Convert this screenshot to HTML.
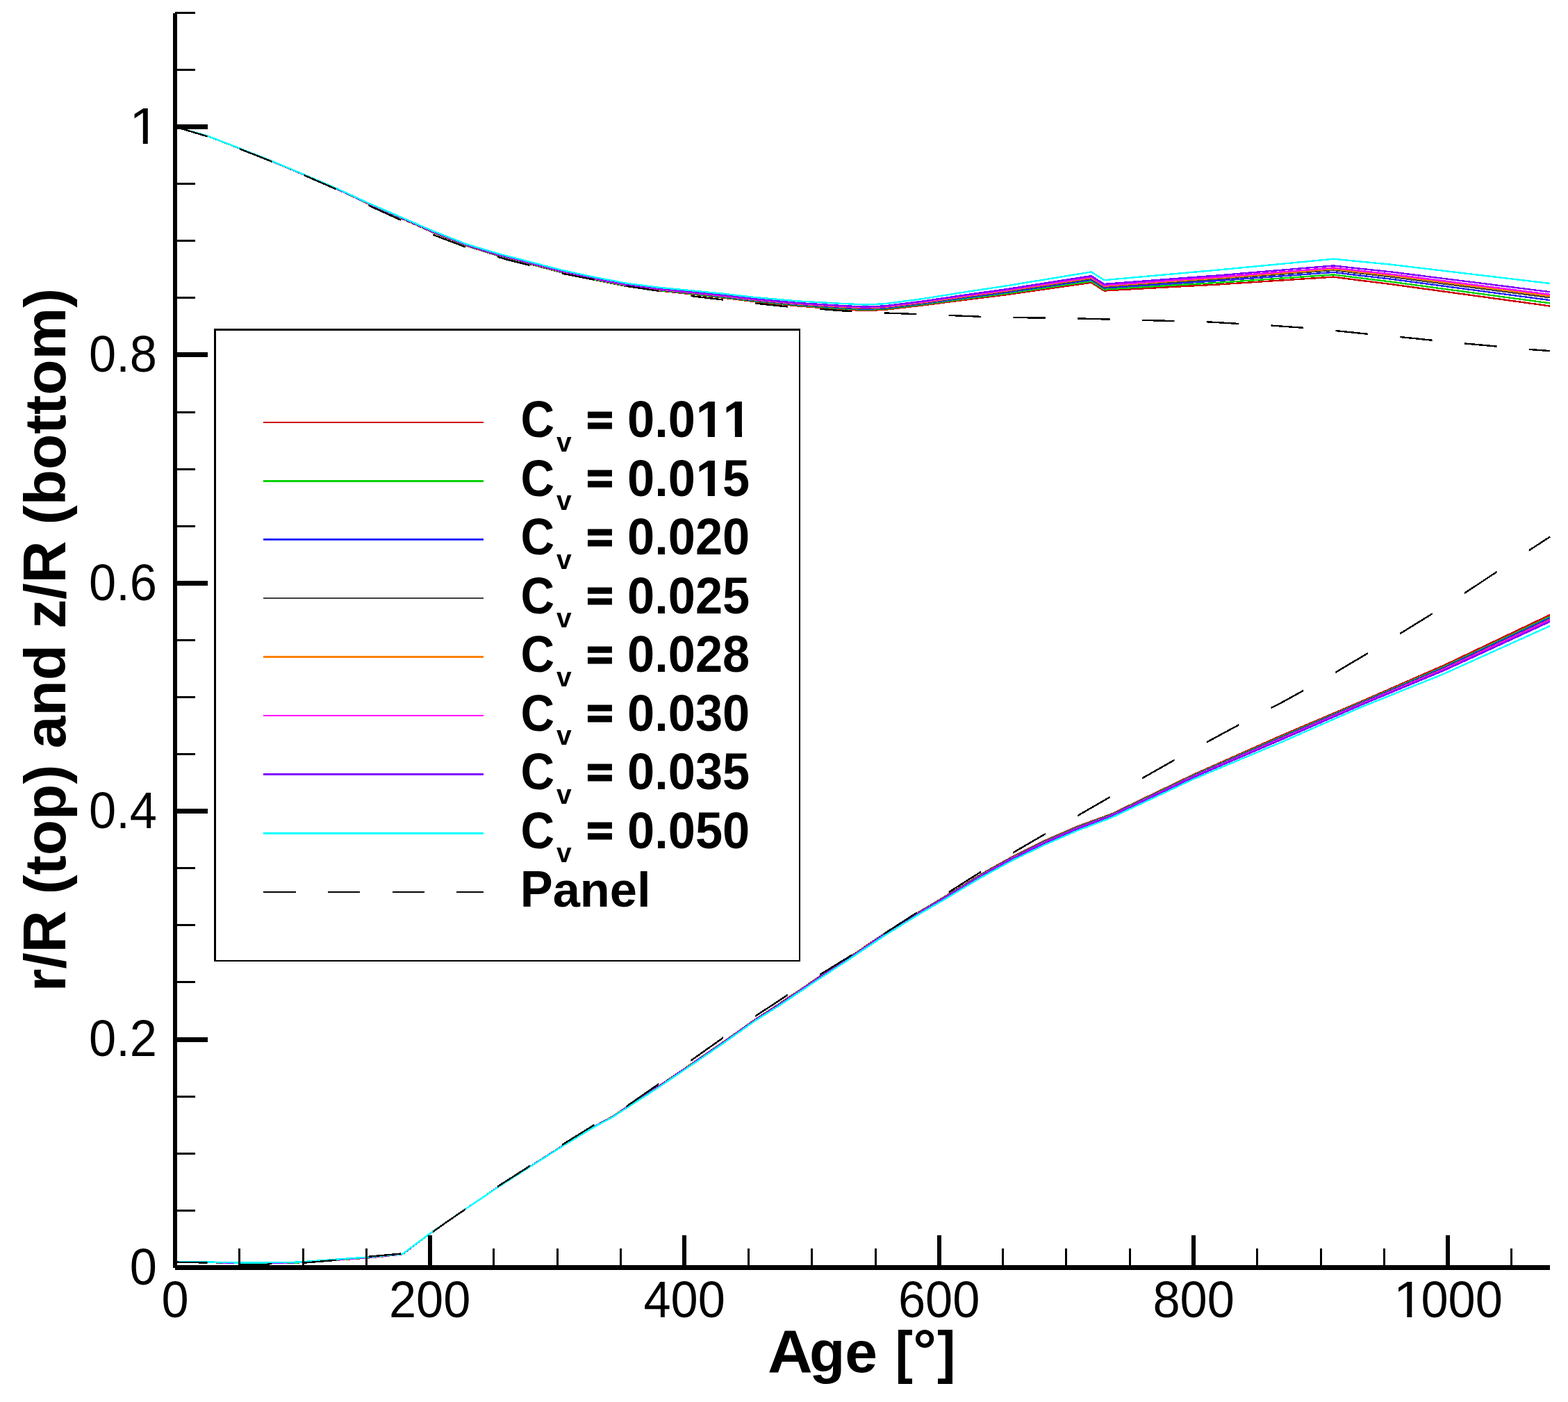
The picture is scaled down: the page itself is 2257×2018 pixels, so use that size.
<!DOCTYPE html>
<html lang="en"><head><meta charset="utf-8"><title>r/R (top) and z/R (bottom) vs Age</title>
<style>html,body{margin:0;padding:0;background:#fff;}body{width:2257px;height:2018px;overflow:hidden;}svg{display:block;}text{font-family:"Liberation Sans",Arial,Helvetica,sans-serif;fill:#000;font-kerning:none;white-space:pre;}.tk text{font-size:70.4px;}.lg text{font-size:70.4px;font-weight:bold;}.lg text.sub{font-size:39px;}.ax text{font-size:84px;font-weight:bold;}</style></head><body>
<svg xmlns="http://www.w3.org/2000/svg" width="2257" height="2018" viewBox="0 0 2257 2018">
<rect x="0" y="0" width="2257" height="2018" fill="#fff"/>
<defs>
<clipPath id="dash">
<rect x="252" y="0" width="46.5" height="2018"/>
<rect x="344.8" y="0" width="46.5" height="2018"/>
<rect x="437.6" y="0" width="46.5" height="2018"/>
<rect x="530.4" y="0" width="46.5" height="2018"/>
<rect x="623.2" y="0" width="46.5" height="2018"/>
<rect x="716" y="0" width="46.5" height="2018"/>
<rect x="808.8" y="0" width="46.5" height="2018"/>
<rect x="901.6" y="0" width="46.5" height="2018"/>
<rect x="994.4" y="0" width="46.5" height="2018"/>
<rect x="1087.2" y="0" width="46.5" height="2018"/>
<rect x="1180" y="0" width="46.5" height="2018"/>
<rect x="1272.8" y="0" width="46.5" height="2018"/>
<rect x="1365.6" y="0" width="46.5" height="2018"/>
<rect x="1458.4" y="0" width="46.5" height="2018"/>
<rect x="1551.2" y="0" width="46.5" height="2018"/>
<rect x="1644" y="0" width="46.5" height="2018"/>
<rect x="1736.8" y="0" width="46.5" height="2018"/>
<rect x="1829.6" y="0" width="46.5" height="2018"/>
<rect x="1922.4" y="0" width="46.5" height="2018"/>
<rect x="2015.2" y="0" width="46.5" height="2018"/>
<rect x="2108" y="0" width="46.5" height="2018"/>
<rect x="2200.8" y="0" width="31.2" height="2018"/>
</clipPath>
<clipPath id="oner70"><polygon points="-5,-84.48 70.4,-84.48 70.4,-6.02 23.93,-6.02 23.93,2 17.7,2 17.7,-6.02 -5,-6.02"/></clipPath>
<clipPath id="oneb70"><polygon points="-5,-84.48 70.4,-84.48 70.4,-7.98 26.09,-7.98 26.09,2 16.43,2 16.43,-7.98 -5,-7.98"/></clipPath>
</defs>
<g fill="none" stroke-linejoin="round" stroke-width="2.4" shape-rendering="crispEdges">
<polyline stroke="#cc0000" points="252,182.6 266.5,186.5 298.9,195.9 346.1,214.2 391.5,232.3 438,251.8 490,274.5 531.3,294 577.8,314.5 623.2,334.5 669.8,353.3 716.3,368 730,371.4 809,392.4 855.5,402.8 902.1,412.1 947.5,418.3 970,420.6 1040.7,428.6 1087.9,434.4 1146.8,440.3 1210,445.2 1245.4,447.1 1273.7,445.8 1327.9,439.5 1386.8,431.9 1450,424 1570.8,406.7 1589.2,418.5 1700,412.3 1750,409.7 1919.5,398.6 1957,403.5 2000,408.8 2231,440.5"/>
<polyline stroke="#cc0000" points="252,1816.2 300,1817 345,1818.3 380,1818.3 430,1817.4 483.6,1813.7 531.1,1810.4 578,1805.6 580.5,1804.6 616.2,1777.5 640,1760.9 669.5,1740.7 715.4,1709.5 762.6,1679.2 809.2,1649.5 855.7,1621 880,1608 947.2,1564 994.3,1532 1040.9,1500 1087.5,1467 1120,1446 1180.7,1405 1226.7,1375 1273.2,1343.5 1319.8,1314.5 1360,1290.5 1411.9,1258.5 1458.4,1232.5 1505,1209.5 1551,1189.5 1600,1171.6 1717.9,1114.9 1840,1060.7 1960.9,1009 2080,956.9 2231,885"/>
<polyline stroke="#00d000" points="252,182.6 266.5,186.5 298.9,195.9 346.1,214.2 391.5,232.2 438,251.7 490,274.4 531.3,293.9 577.8,314.3 623.2,334.2 669.8,353 716.3,367.6 730,371 809,392 855.5,402.3 902.1,411.6 947.5,417.7 970,420 1040.7,427.9 1087.9,433.6 1146.8,439.4 1210,444.1 1245.4,446 1273.7,444.7 1327.9,438.3 1386.8,430.5 1450,422.4 1570.8,404.8 1589.2,416.6 1700,409.9 1750,407.1 1919.5,395.4 1957,400.1 2000,405.3 2231,436.4"/>
<polyline stroke="#00d000" points="252,1816.1 300,1816.9 345,1818.2 380,1818.2 430,1817.3 483.6,1813.5 531.1,1810.2 578,1805.5 580.5,1804.5 616.2,1777.5 640,1760.9 669.5,1740.7 715.4,1709.5 762.6,1679.3 809.2,1649.6 855.7,1621.1 880,1608.2 947.2,1564.3 994.3,1532.3 1040.9,1500.3 1087.5,1467.3 1120,1446.4 1180.7,1405.5 1226.7,1375.5 1273.2,1344 1319.8,1315 1360,1291.1 1411.9,1259.3 1458.4,1233.4 1505,1210.5 1551,1190.5 1600,1172.5 1717.9,1116 1840,1062.3 1960.9,1010.4 2080,959 2231,887.7"/>
<polyline stroke="#2828ff" points="252,182.6 266.5,186.5 298.9,195.8 346.1,214.1 391.5,232.2 438,251.7 490,274.3 531.3,293.7 577.8,314.1 623.2,334 669.8,352.7 716.3,367.2 730,370.6 809,391.5 855.5,401.8 902.1,411 947.5,417.1 970,419.4 1040.7,427.1 1087.9,432.8 1146.8,438.5 1210,443 1245.4,444.9 1273.7,443.6 1327.9,437.1 1386.8,429 1450,420.7 1570.8,402.7 1589.2,414.5 1700,407.4 1750,404.3 1919.5,391.9 1957,396.5 2000,401.4 2231,432.1"/>
<polyline stroke="#2828ff" points="252,1816.1 300,1816.9 345,1818.1 380,1818.1 430,1817.2 483.6,1813.4 531.1,1810.1 578,1805.4 580.5,1804.5 616.2,1777.4 640,1760.9 669.5,1740.7 715.4,1709.6 762.6,1679.3 809.2,1649.7 855.7,1621.2 880,1608.3 947.2,1564.4 994.3,1532.5 1040.9,1500.5 1087.5,1467.5 1120,1446.7 1180.7,1405.8 1226.7,1375.8 1273.2,1344.3 1319.8,1315.4 1360,1291.5 1411.9,1259.8 1458.4,1233.9 1505,1211.1 1551,1191.1 1600,1173 1717.9,1116.7 1840,1063.3 1960.9,1011.2 2080,960.2 2231,889.3"/>
<polyline stroke="#404040" points="252,182.6 266.5,186.5 298.9,195.8 346.1,214.1 391.5,232.2 438,251.6 490,274.2 531.3,293.6 577.8,313.9 623.2,333.8 669.8,352.4 716.3,366.8 730,370.3 809,391.1 855.5,401.3 902.1,410.5 947.5,416.6 970,418.8 1040.7,426.4 1087.9,432 1146.8,437.7 1210,442.1 1245.4,443.9 1273.7,442.6 1327.9,436 1386.8,427.7 1450,419.2 1570.8,401 1589.2,412.8 1700,405.2 1750,401.9 1919.5,388.9 1957,393.3 2000,398.2 2231,428.3"/>
<polyline stroke="#404040" points="252,1816 300,1816.8 345,1818 380,1818 430,1817.1 483.6,1813.3 531.1,1810 578,1805.4 580.5,1804.5 616.2,1777.4 640,1760.9 669.5,1740.7 715.4,1709.6 762.6,1679.4 809.2,1649.7 855.7,1621.3 880,1608.4 947.2,1564.7 994.3,1532.7 1040.9,1500.8 1087.5,1467.8 1120,1447 1180.7,1406.2 1226.7,1376.1 1273.2,1344.8 1319.8,1315.8 1360,1292.1 1411.9,1260.4 1458.4,1234.7 1505,1211.9 1551,1191.9 1600,1173.7 1717.9,1117.6 1840,1064.6 1960.9,1012.4 2080,961.9 2231,891.6"/>
<polyline stroke="#ff8000" points="252,182.6 266.5,186.5 298.9,195.8 346.1,214.1 391.5,232.1 438,251.6 490,274.1 531.3,293.5 577.8,313.8 623.2,333.6 669.8,352.2 716.3,366.6 730,370.1 809,390.9 855.5,401.1 902.1,410.2 947.5,416.3 970,418.5 1040.7,426 1087.9,431.6 1146.8,437.2 1210,441.5 1245.4,443.3 1273.7,442 1327.9,435.4 1386.8,427 1450,418.4 1570.8,400 1589.2,411.8 1700,403.9 1750,400.5 1919.5,387.2 1957,391.6 2000,396.3 2231,426.2"/>
<polyline stroke="#ff8000" points="252,1816 300,1816.8 345,1817.9 380,1817.9 430,1817 483.6,1813.3 531.1,1810 578,1805.3 580.5,1804.5 616.2,1777.4 640,1760.9 669.5,1740.7 715.4,1709.6 762.6,1679.4 809.2,1649.8 855.7,1621.4 880,1608.4 947.2,1564.7 994.3,1532.7 1040.9,1500.8 1087.5,1467.8 1120,1447.1 1180.7,1406.3 1226.7,1376.2 1273.2,1344.9 1319.8,1315.9 1360,1292.2 1411.9,1260.6 1458.4,1234.8 1505,1212.1 1551,1192.1 1600,1173.9 1717.9,1117.8 1840,1064.9 1960.9,1012.6 2080,962.3 2231,892"/>
<polyline stroke="#ff00ff" points="252,182.6 266.5,186.5 298.9,195.8 346.1,214 391.5,232.1 438,251.5 490,274.1 531.3,293.4 577.8,313.6 623.2,333.5 669.8,352 716.3,366.4 730,369.9 809,390.6 855.5,400.8 902.1,409.9 947.5,416 970,418.2 1040.7,425.6 1087.9,431.2 1146.8,436.7 1210,440.9 1245.4,442.7 1273.7,441.4 1327.9,434.7 1386.8,426.2 1450,417.5 1570.8,398.9 1589.2,410.7 1700,402.6 1750,399.1 1919.5,385.4 1957,389.7 2000,394.4 2231,423.9"/>
<polyline stroke="#ff00ff" points="252,1816 300,1816.8 345,1817.9 380,1817.9 430,1817 483.6,1813.2 531.1,1809.9 578,1805.3 580.5,1804.5 616.2,1777.4 640,1760.9 669.5,1740.7 715.4,1709.6 762.6,1679.4 809.2,1649.8 855.7,1621.4 880,1608.5 947.2,1564.7 994.3,1532.8 1040.9,1500.9 1087.5,1467.9 1120,1447.2 1180.7,1406.3 1226.7,1376.3 1273.2,1344.9 1319.8,1316 1360,1292.2 1411.9,1260.7 1458.4,1234.9 1505,1212.2 1551,1192.2 1600,1174 1717.9,1117.9 1840,1065.1 1960.9,1012.8 2080,962.6 2231,892.4"/>
<polyline stroke="#8000ff" points="252,182.6 266.5,186.5 298.9,195.8 346.1,214 391.5,232.1 438,251.5 490,274 531.3,293.2 577.8,313.4 623.2,333.2 669.8,351.7 716.3,366.1 730,369.5 809,390.2 855.5,400.4 902.1,409.4 947.5,415.4 970,417.6 1040.7,424.9 1087.9,430.5 1146.8,435.9 1210,439.9 1245.4,441.7 1273.7,440.4 1327.9,433.6 1386.8,424.9 1450,416 1570.8,397.1 1589.2,408.9 1700,400.4 1750,396.7 1919.5,382.4 1957,386.6 2000,391.1 2231,420.2"/>
<polyline stroke="#8000ff" points="252,1816 300,1816.7 345,1817.8 380,1817.8 430,1816.9 483.6,1813.1 531.1,1809.8 578,1805.2 580.5,1804.4 616.2,1777.4 640,1760.9 669.5,1740.7 715.4,1709.6 762.6,1679.4 809.2,1649.9 855.7,1621.5 880,1608.6 947.2,1565 994.3,1533 1040.9,1501.2 1087.5,1468.2 1120,1447.5 1180.7,1406.8 1226.7,1376.7 1273.2,1345.4 1319.8,1316.5 1360,1292.8 1411.9,1261.4 1458.4,1235.7 1505,1213.1 1551,1193.1 1600,1174.8 1717.9,1118.9 1840,1066.5 1960.9,1014 2080,964.4 2231,894.8"/>
<polyline stroke="#00ffff" points="252,182.6 266.5,186.5 298.9,195.7 346.1,213.9 391.5,231.9 438,251.3 490,273.7 531.3,292.8 577.8,312.8 623.2,332.5 669.8,350.8 716.3,364.9 730,368.4 809,388.9 855.5,398.9 902.1,407.8 947.5,413.7 970,415.8 1040.7,422.7 1087.9,428.1 1146.8,433.3 1210,436.8 1245.4,438.5 1273.7,437.2 1327.9,430.1 1386.8,420.7 1450,411.2 1570.8,391.4 1589.2,403.2 1700,393.3 1750,388.9 1919.5,372.7 1957,376.4 2000,380.5 2231,408"/>
<polyline stroke="#00ffff" points="252,1815.8 300,1816.5 345,1817.5 380,1817.5 430,1816.6 483.6,1812.7 531.1,1809.4 578,1805 580.5,1804.3 616.2,1777.3 640,1760.9 669.5,1740.7 715.4,1709.7 762.6,1679.6 809.2,1650.1 855.7,1621.8 880,1609 947.2,1565.6 994.3,1533.7 1040.9,1501.9 1087.5,1468.9 1120,1448.5 1180.7,1407.9 1226.7,1377.8 1273.2,1346.6 1319.8,1317.7 1360,1294.3 1411.9,1263.2 1458.4,1237.8 1505,1215.4 1551,1195.4 1600,1176.8 1717.9,1121.4 1840,1070.2 1960.9,1017.2 2080,969.2 2231,901"/>
</g>
<g fill="none" stroke="#000" stroke-width="2.4" clip-path="url(#dash)" shape-rendering="crispEdges">
<polyline points="252,182.6 266.5,186.8 298.9,196.5 346.1,214.7 391.5,232.7 438,252.3 490,275 531.3,296 577.8,317.2 623.2,337.8 669.8,355.5 716.3,369.6 730,373.8 809,393.6 855.5,402.7 902.1,411.9 947.5,418.7 994.2,426 1040.7,431.5 1087.3,436.6 1133.9,441.5 1180.4,444.8 1210,447.2 1273.7,450.5 1319.6,452.1 1365,453.9 1411.6,455.8 1458.1,457 1551.1,458.4 1644.2,460.9 1736.1,463.2 1784,466 1829.2,468.5 1875.8,471.8 1922.2,476 1968.9,480.8 2015.2,485 2060.9,489.7 2108,494.4 2153.7,498.5 2200.1,502.9 2231,505.1"/>
<polyline points="252,1816.6 300,1817.6 345,1819.7 385,1819.7 392,1818.7 437.6,1817.7 484.2,1813.8 531.1,1808.7 578,1804.4 580.5,1804.3 616.2,1778 640,1761 669.5,1740.7 715.4,1708.5 762.6,1678.2 809.2,1647.8 855.7,1618.9 902.4,1592.1 947.2,1560.9 994.3,1526.7 1040.9,1493.7 1087.5,1462.4 1120,1441.2 1133.6,1432.1 1180.7,1402.6 1226.7,1374.3 1273.2,1343.6 1319.8,1313.6 1365.3,1284.4 1411.9,1254.9 1458.4,1227.2 1505,1200.1 1551,1174.2 1596.9,1147.7 1644.2,1120.2 1690.2,1094.1 1736.2,1068.7 1783.9,1043 1829.3,1018.9 1840,1013.9 1875.7,994.2 1922.2,968 1968.8,940.2 2015.3,912 2060.5,884.1 2108.3,853.7 2153.6,823.7 2200.2,792.7 2231.2,772.6"/>
</g>
<g fill="#000" shape-rendering="crispEdges">
<rect x="249" y="19" width="6" height="1806"/>
<rect x="252" y="1821" width="1979" height="7"/>
<rect x="252" y="1741" width="29" height="3"/>
<rect x="252" y="1659" width="29" height="3"/>
<rect x="252" y="1577" width="29" height="3"/>
<rect x="252" y="1493" width="47" height="7"/>
<rect x="252" y="1412" width="29" height="3"/>
<rect x="252" y="1330" width="29" height="3"/>
<rect x="252" y="1248" width="29" height="3"/>
<rect x="252" y="1164" width="47" height="7"/>
<rect x="252" y="1084" width="29" height="3"/>
<rect x="252" y="1002" width="29" height="3"/>
<rect x="252" y="920" width="29" height="3"/>
<rect x="252" y="836" width="47" height="7"/>
<rect x="252" y="756" width="29" height="3"/>
<rect x="252" y="674" width="29" height="3"/>
<rect x="252" y="592" width="29" height="3"/>
<rect x="252" y="507" width="47" height="7"/>
<rect x="252" y="427" width="29" height="3"/>
<rect x="252" y="345" width="29" height="3"/>
<rect x="252" y="263" width="29" height="3"/>
<rect x="252" y="179" width="47" height="7"/>
<rect x="252" y="99" width="29" height="3"/>
<rect x="252" y="17" width="29" height="3"/>
<rect x="343" y="1797" width="3" height="27"/>
<rect x="435" y="1797" width="3" height="27"/>
<rect x="526" y="1797" width="3" height="27"/>
<rect x="616" y="1778" width="6" height="46"/>
<rect x="709" y="1797" width="3" height="27"/>
<rect x="801" y="1797" width="3" height="27"/>
<rect x="892" y="1797" width="3" height="27"/>
<rect x="982" y="1778" width="6" height="46"/>
<rect x="1076" y="1797" width="3" height="27"/>
<rect x="1167" y="1797" width="3" height="27"/>
<rect x="1259" y="1797" width="3" height="27"/>
<rect x="1349" y="1778" width="6" height="46"/>
<rect x="1442" y="1797" width="3" height="27"/>
<rect x="1533" y="1797" width="3" height="27"/>
<rect x="1625" y="1797" width="3" height="27"/>
<rect x="1715" y="1778" width="6" height="46"/>
<rect x="1808" y="1797" width="3" height="27"/>
<rect x="1900" y="1797" width="3" height="27"/>
<rect x="1991" y="1797" width="3" height="27"/>
<rect x="2081" y="1778" width="6" height="46"/>
<rect x="2174" y="1797" width="3" height="27"/>
</g>
<g class="tk">
<text transform="translate(186.75 1848.7) scale(1 1.045)">0</text>
<text transform="translate(128.03 1520.3) scale(1 1.045)">0</text>
<text transform="translate(167.19 1520.3)">.</text>
<text transform="translate(186.75 1520.3) scale(1 1.045)">2</text>
<text transform="translate(128.03 1191.9) scale(1 1.045)">0</text>
<text transform="translate(167.19 1191.9)">.</text>
<text transform="translate(186.75 1191.9) scale(1 1.045)">4</text>
<text transform="translate(128.03 863.5) scale(1 1.045)">0</text>
<text transform="translate(167.19 863.5)">.</text>
<text transform="translate(186.75 863.5) scale(1 1.045)">6</text>
<text transform="translate(128.03 535.1) scale(1 1.045)">0</text>
<text transform="translate(167.19 535.1)">.</text>
<text transform="translate(186.75 535.1) scale(1 1.045)">8</text>
<text transform="translate(185.95 206.7) scale(1.12 1.045)" clip-path="url(#oner70)">1</text>
<text transform="translate(232.62 1896.1) scale(1 1.045)">0</text>
<text transform="translate(559.95 1896.1) scale(1 1.045)">200</text>
<text transform="translate(926.43 1896.1) scale(1 1.045)">400</text>
<text transform="translate(1292.91 1896.1) scale(1 1.045)">600</text>
<text transform="translate(1659.4 1896.1) scale(1 1.045)">800</text>
<text transform="translate(2005.5 1896.1) scale(1.12 1.045)" clip-path="url(#oner70)">1</text>
<text transform="translate(2045.45 1896.1) scale(1 1.045)">000</text>
</g>
<g class="ax">
<text transform="translate(1105.12 1975.3) scale(1.065 1.045)">A</text>
<text transform="translate(1164.88 1975.3)">ge</text>
<text transform="translate(1288.65 1975.3) scale(0.9 1)">[</text>
<text transform="translate(1314.22 1972.2)">°</text>
<text transform="translate(1349.11 1975.3) scale(0.945 1)">]</text>
<g transform="translate(93.8 921) rotate(-90)">
<text transform="translate(-506.21 0)">r/</text>
<text transform="translate(-450.19 0) scale(1 1.045)">R</text>
<text transform="translate(-366.19 0)">(top)</text>
<text transform="translate(-156.31 0)">and</text>
<text transform="translate(16.37 0)">z/</text>
<text transform="translate(81.7 0) scale(1 1.045)">R</text>
<text transform="translate(165.7 0)">(bottom)</text>
</g></g>
<g shape-rendering="crispEdges">
<rect x="308" y="473" width="844" height="911" fill="#fff"/>
<rect x="308" y="473" width="844" height="2.5"/>
<rect x="308" y="1381.5" width="844" height="2.5"/>
<rect x="308" y="473" width="2.5" height="911"/>
<rect x="1149.5" y="473" width="2.5" height="911"/>
</g>
<g shape-rendering="crispEdges">
<rect x="379" y="607" width="317" height="2" fill="#cc0000"/>
<rect x="379" y="691" width="317" height="3" fill="#00d000"/>
<rect x="379" y="775" width="317" height="3" fill="#2828ff"/>
<rect x="379" y="860" width="317" height="2" fill="#404040"/>
<rect x="379" y="944" width="317" height="3" fill="#ff8000"/>
<rect x="379" y="1029" width="317" height="2" fill="#ff00ff"/>
<rect x="379" y="1113" width="317" height="3" fill="#8000ff"/>
<rect x="379" y="1198" width="317" height="3" fill="#00ffff"/>
<rect x="379" y="1283" width="47" height="2" fill="#000"/>
<rect x="472" y="1283" width="46" height="2" fill="#000"/>
<rect x="565" y="1283" width="46" height="2" fill="#000"/>
<rect x="657" y="1283" width="39" height="2" fill="#000"/>
</g>
<g class="lg">
<text transform="translate(749.6 629.2) scale(0.955 1.045)">C</text>
<text class="sub" x="801" y="649.5">v</text>
<text transform="translate(845.1 623.7) scale(0.897 0.825)" stroke="#000" stroke-width="3.7" stroke-linejoin="miter">=</text>
<text transform="translate(903.1 629.2) scale(1 1.045)">0</text>
<text transform="translate(942.25 629.2)">.</text>
<text transform="translate(961.81 629.2) scale(1 1.045)">0</text>
<text transform="translate(1001.47 629.2) scale(1.05 1.045)" clip-path="url(#oneb70)">1</text>
<text transform="translate(1040.62 629.2) scale(1.05 1.045)" clip-path="url(#oneb70)">1</text>
<text transform="translate(749.6 713.7) scale(0.955 1.045)">C</text>
<text class="sub" x="801" y="734">v</text>
<text transform="translate(845.1 708.2) scale(0.897 0.825)" stroke="#000" stroke-width="3.7" stroke-linejoin="miter">=</text>
<text transform="translate(903.1 713.7) scale(1 1.045)">0</text>
<text transform="translate(942.25 713.7)">.</text>
<text transform="translate(961.81 713.7) scale(1 1.045)">0</text>
<text transform="translate(1001.47 713.7) scale(1.05 1.045)" clip-path="url(#oneb70)">1</text>
<text transform="translate(1040.12 713.7) scale(1 1.045)">5</text>
<text transform="translate(749.6 798.2) scale(0.955 1.045)">C</text>
<text class="sub" x="801" y="818.5">v</text>
<text transform="translate(845.1 792.7) scale(0.897 0.825)" stroke="#000" stroke-width="3.7" stroke-linejoin="miter">=</text>
<text transform="translate(903.1 798.2) scale(1 1.045)">0</text>
<text transform="translate(942.25 798.2)">.</text>
<text transform="translate(961.81 798.2) scale(1 1.045)">020</text>
<text transform="translate(749.6 882.7) scale(0.955 1.045)">C</text>
<text class="sub" x="801" y="903">v</text>
<text transform="translate(845.1 877.2) scale(0.897 0.825)" stroke="#000" stroke-width="3.7" stroke-linejoin="miter">=</text>
<text transform="translate(903.1 882.7) scale(1 1.045)">0</text>
<text transform="translate(942.25 882.7)">.</text>
<text transform="translate(961.81 882.7) scale(1 1.045)">025</text>
<text transform="translate(749.6 967.2) scale(0.955 1.045)">C</text>
<text class="sub" x="801" y="987.5">v</text>
<text transform="translate(845.1 961.7) scale(0.897 0.825)" stroke="#000" stroke-width="3.7" stroke-linejoin="miter">=</text>
<text transform="translate(903.1 967.2) scale(1 1.045)">0</text>
<text transform="translate(942.25 967.2)">.</text>
<text transform="translate(961.81 967.2) scale(1 1.045)">028</text>
<text transform="translate(749.6 1051.7) scale(0.955 1.045)">C</text>
<text class="sub" x="801" y="1072">v</text>
<text transform="translate(845.1 1046.2) scale(0.897 0.825)" stroke="#000" stroke-width="3.7" stroke-linejoin="miter">=</text>
<text transform="translate(903.1 1051.7) scale(1 1.045)">0</text>
<text transform="translate(942.25 1051.7)">.</text>
<text transform="translate(961.81 1051.7) scale(1 1.045)">030</text>
<text transform="translate(749.6 1136.2) scale(0.955 1.045)">C</text>
<text class="sub" x="801" y="1156.5">v</text>
<text transform="translate(845.1 1130.7) scale(0.897 0.825)" stroke="#000" stroke-width="3.7" stroke-linejoin="miter">=</text>
<text transform="translate(903.1 1136.2) scale(1 1.045)">0</text>
<text transform="translate(942.25 1136.2)">.</text>
<text transform="translate(961.81 1136.2) scale(1 1.045)">035</text>
<text transform="translate(749.6 1220.7) scale(0.955 1.045)">C</text>
<text class="sub" x="801" y="1241">v</text>
<text transform="translate(845.1 1215.2) scale(0.897 0.825)" stroke="#000" stroke-width="3.7" stroke-linejoin="miter">=</text>
<text transform="translate(903.1 1220.7) scale(1 1.045)">0</text>
<text transform="translate(942.25 1220.7)">.</text>
<text transform="translate(961.81 1220.7) scale(1 1.045)">050</text>
<text transform="translate(748.7 1305.2) scale(1 1.045)">P</text>
<text transform="translate(795.66 1305.2)">anel</text>
</g>
</svg></body></html>
